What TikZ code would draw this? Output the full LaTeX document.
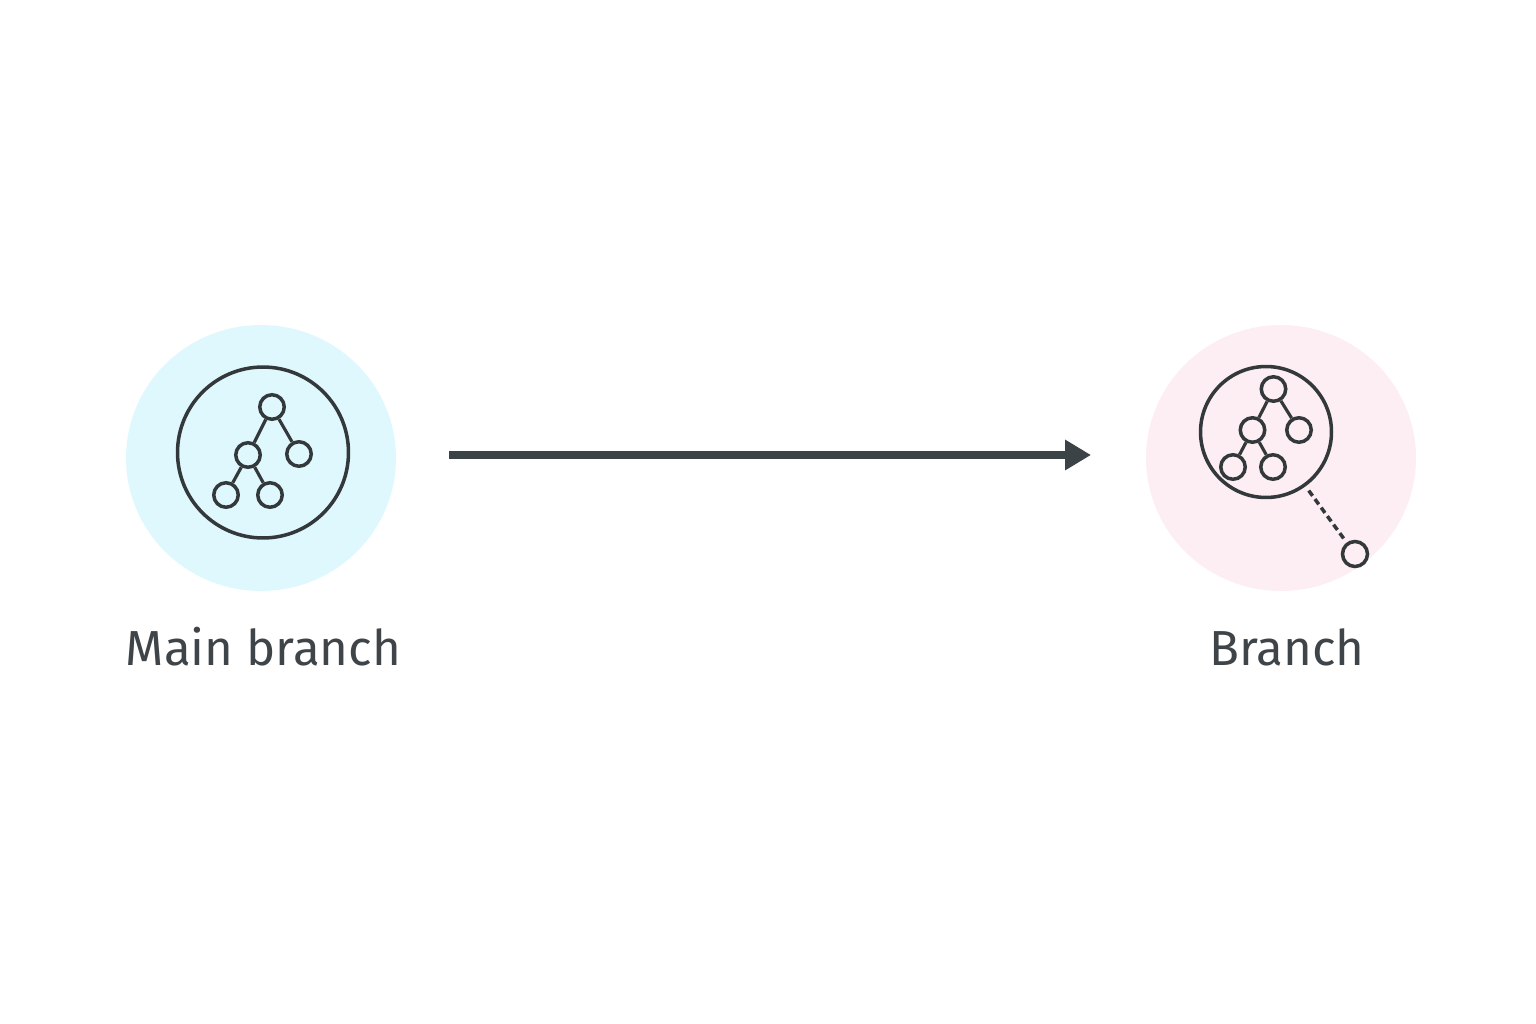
\documentclass[tikz,border=0pt]{standalone}
\usepackage{fontspec}
\setmainfont{Fira Sans}
\usetikzlibrary{arrows.meta, shapes.geometric}
\definecolor{inkdark}{HTML}{33393B}
\definecolor{arrowdark}{HTML}{3C4347}
\definecolor{textdark}{HTML}{3F4448}
\definecolor{mainbg}{HTML}{DFF8FD}
\definecolor{branchbg}{HTML}{FDEEF3}

\begin{document}
\begin{tikzpicture}[x=0.02cm, y=-0.02cm,
    disc/.style={ellipse, minimum width=5.4cm, minimum height=5.32cm, inner sep=0pt},
    ring/.style={circle, draw=inkdark, line width=2pt, inner sep=0pt},
    leaf/.style={circle, draw=inkdark, line width=2pt, minimum size=0.49cm, inner sep=0pt},
    link/.style={draw=inkdark, line width=1.8pt},
    caption/.style={text=textdark, font=\fontsize{28pt}{34pt}\selectfont, anchor=base, inner sep=0pt}]
    \useasboundingbox (0,0) rectangle (1536,1024);
    \fill[white] (0,0) rectangle (1536,1024);

    % Background discs
    \node[disc, fill=mainbg] (main-disc) at (261,458) {};
    \node[disc, fill=branchbg] (branch-disc) at (1281,458) {};

    % Main branch (left)
    \node[ring, minimum size=3.42cm] (main-ring) at (263,452.5) {};
    \node[leaf] (main-1) at (272,407) {};
    \node[leaf] (main-2) at (248,455) {};
    \node[leaf] (main-3) at (299,454) {};
    \node[leaf] (main-4) at (226,495) {};
    \node[leaf] (main-5) at (270,495) {};

    % Edges for the main tree
    \draw[link] (main-1) -- (main-2);
    \draw[link] (main-1) -- (main-3);
    \draw[link] (main-2) -- (main-4);
    \draw[link] (main-2) -- (main-5);

    % Branch (right)
    \node[ring, minimum size=2.62cm] (branch-ring) at (1266,432) {};
    \node[leaf] (branch-1) at (1273.5,389) {};
    \node[leaf] (branch-2) at (1252.5,430) {};
    \node[leaf] (branch-3) at (1299,430) {};
    \node[leaf] (branch-4) at (1233,467) {};
    \node[leaf] (branch-5) at (1273,467) {};
    \node[leaf, minimum size=0.5cm] (branch-6) at (1355,554) {};

    % Edges for the branch tree
    \draw[link] (branch-1) -- (branch-2);
    \draw[link] (branch-1) -- (branch-3);
    \draw[link] (branch-2) -- (branch-4);
    \draw[link] (branch-2) -- (branch-5);
    \draw[draw=inkdark, line width=2pt, dash pattern=on 3.7pt off 2.3pt, shorten >=1pt, shorten <=3pt] (branch-ring) -- (branch-6);

    % Arrow between the two
    \coordinate (arrow-start) at (449,455);
    \coordinate (arrow-end) at (1091,455);
    \draw[-{Triangle[length=14.7pt, width=16.4pt]}, draw=arrowdark, fill=arrowdark, line width=4.4pt] (arrow-start) -- (arrow-end);

    % Labels
    \node[caption] (main-label) at (263.5,665) {Main branch};
    \node[caption] (branch-label) at (1287,665) {Branch};
\end{tikzpicture}
\end{document}
